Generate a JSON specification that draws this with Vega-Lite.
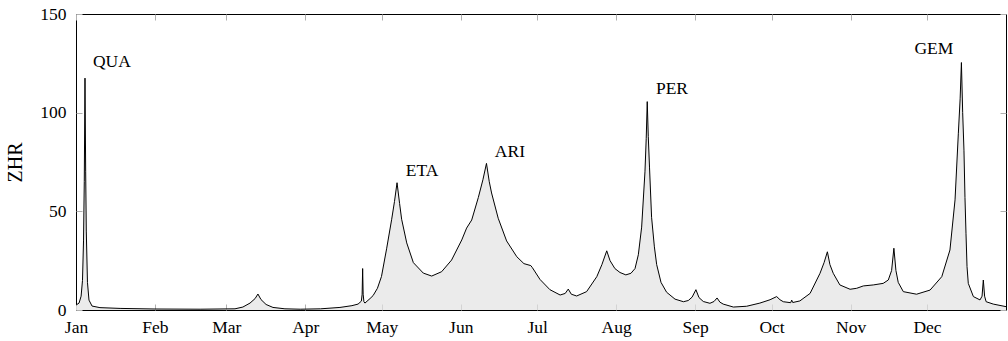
{
  "$schema": "https://vega.github.io/schema/vega-lite/v6.json",
  "width": 930,
  "height": 296,
  "autosize": {"type": "none"},
  "padding": {"left": 76, "top": 14, "right": 2, "bottom": 31},
  "background": "white",
  "config": {
    "view": {"stroke": "black", "strokeWidth": 1},
    "font": "Liberation Serif",
    "axis": {
      "labelFont": "Liberation Serif",
      "labelFontSize": 17.5,
      "labelColor": "black",
      "titleFont": "Liberation Serif",
      "titleColor": "black",
      "grid": false,
      "domain": false,
      "tickColor": "#b0b0b0",
      "tickSize": -6,
      "tickWidth": 1
    }
  },
  "datasets": {
    "zhr": [
      {"day": 0, "zhr": 2.5}, {"day": 1.2, "zhr": 3.5}, {"day": 2.0, "zhr": 7}, {"day": 2.55, "zhr": 15},
      {"day": 2.95, "zhr": 35}, {"day": 3.25, "zhr": 65}, {"day": 3.53, "zhr": 117.5}, {"day": 3.8, "zhr": 70},
      {"day": 4.04, "zhr": 40}, {"day": 4.5, "zhr": 14}, {"day": 5.1, "zhr": 5}, {"day": 6.3, "zhr": 2},
      {"day": 9.4, "zhr": 1.2}, {"day": 17.3, "zhr": 0.8}, {"day": 31, "zhr": 0.5}, {"day": 48.7, "zhr": 0.4},
      {"day": 62.4, "zhr": 0.6}, {"day": 65.5, "zhr": 1.5}, {"day": 68.3, "zhr": 3.5}, {"day": 70.3, "zhr": 5.8},
      {"day": 71.4, "zhr": 8.1}, {"day": 72.6, "zhr": 5.3}, {"day": 74.6, "zhr": 2.8}, {"day": 77.3, "zhr": 1.3},
      {"day": 82, "zhr": 0.6}, {"day": 88, "zhr": 0.4}, {"day": 96, "zhr": 0.6}, {"day": 103.6, "zhr": 1.3},
      {"day": 108.3, "zhr": 2.2}, {"day": 110.7, "zhr": 3}, {"day": 112.0, "zhr": 4.5}, {"day": 112.3, "zhr": 8},
      {"day": 112.5, "zhr": 21}, {"day": 112.7, "zhr": 8}, {"day": 113.0, "zhr": 4.2}, {"day": 113.4, "zhr": 3.5},
      {"day": 115.4, "zhr": 5.8}, {"day": 116.6, "zhr": 7.3}, {"day": 118.3, "zhr": 11}, {"day": 119.9, "zhr": 17},
      {"day": 121.9, "zhr": 31}, {"day": 123.9, "zhr": 46}, {"day": 125.0, "zhr": 55}, {"day": 126.0, "zhr": 64.5},
      {"day": 127.0, "zhr": 54}, {"day": 127.8, "zhr": 46}, {"day": 129.8, "zhr": 34}, {"day": 132.4, "zhr": 24},
      {"day": 136.3, "zhr": 18.7}, {"day": 139.6, "zhr": 17.2}, {"day": 143.5, "zhr": 19.4}, {"day": 147.4, "zhr": 25.3},
      {"day": 151.4, "zhr": 35.5}, {"day": 153.3, "zhr": 41.5}, {"day": 155.3, "zhr": 45.6}, {"day": 157.9, "zhr": 57},
      {"day": 159.7, "zhr": 66}, {"day": 161.1, "zhr": 74.3}, {"day": 162.2, "zhr": 65}, {"day": 163.1, "zhr": 59.3},
      {"day": 165.7, "zhr": 46.5}, {"day": 169.0, "zhr": 35}, {"day": 173.0, "zhr": 27}, {"day": 175.8, "zhr": 23.5},
      {"day": 178.5, "zhr": 22.5}, {"day": 179.1, "zhr": 21.5}, {"day": 182.1, "zhr": 15.5}, {"day": 186.0, "zhr": 10.3},
      {"day": 190.0, "zhr": 7.6}, {"day": 192.0, "zhr": 8.4}, {"day": 193.2, "zhr": 10.6}, {"day": 194.4, "zhr": 8},
      {"day": 196.5, "zhr": 7.1}, {"day": 200.4, "zhr": 9.3}, {"day": 204.4, "zhr": 16.9}, {"day": 206.4, "zhr": 23},
      {"day": 208.3, "zhr": 30}, {"day": 209.6, "zhr": 25}, {"day": 211.5, "zhr": 21}, {"day": 213.5, "zhr": 19},
      {"day": 215.8, "zhr": 17.8}, {"day": 217.8, "zhr": 18.6}, {"day": 219.4, "zhr": 21}, {"day": 220.7, "zhr": 28},
      {"day": 222.0, "zhr": 42}, {"day": 223.3, "zhr": 70}, {"day": 223.8, "zhr": 87}, {"day": 224.2, "zhr": 105.6},
      {"day": 224.6, "zhr": 88}, {"day": 225.1, "zhr": 72}, {"day": 225.9, "zhr": 47}, {"day": 227.0, "zhr": 32},
      {"day": 227.9, "zhr": 23}, {"day": 229.6, "zhr": 14}, {"day": 231.8, "zhr": 9}, {"day": 235.1, "zhr": 5.5},
      {"day": 238.4, "zhr": 4.2}, {"day": 240.3, "zhr": 4.8}, {"day": 241.8, "zhr": 6.5}, {"day": 243.3, "zhr": 10.3},
      {"day": 244.5, "zhr": 6.3}, {"day": 246.2, "zhr": 4.3}, {"day": 248.8, "zhr": 3.4}, {"day": 250.4, "zhr": 4.3},
      {"day": 251.6, "zhr": 6.1}, {"day": 252.7, "zhr": 4}, {"day": 254.0, "zhr": 3.0}, {"day": 258.0, "zhr": 1.5},
      {"day": 263.2, "zhr": 1.9}, {"day": 268.4, "zhr": 3.5}, {"day": 272.4, "zhr": 5.2}, {"day": 275.0, "zhr": 6.8},
      {"day": 276.3, "zhr": 5.2}, {"day": 277.6, "zhr": 4.2}, {"day": 280.5, "zhr": 3.7}, {"day": 280.9, "zhr": 5},
      {"day": 281.3, "zhr": 3.8}, {"day": 284.1, "zhr": 4.6}, {"day": 288.1, "zhr": 8.4}, {"day": 292.0, "zhr": 18.6},
      {"day": 293.6, "zhr": 24}, {"day": 294.9, "zhr": 29.5}, {"day": 295.9, "zhr": 23}, {"day": 297.2, "zhr": 18.6},
      {"day": 299.8, "zhr": 12.7}, {"day": 303.8, "zhr": 10.5}, {"day": 306.4, "zhr": 11}, {"day": 309.0, "zhr": 12.2},
      {"day": 312.9, "zhr": 12.7}, {"day": 316.8, "zhr": 13.5}, {"day": 318.8, "zhr": 15.2}, {"day": 320.1, "zhr": 20},
      {"day": 321.0, "zhr": 31.3}, {"day": 321.8, "zhr": 20}, {"day": 322.7, "zhr": 14}, {"day": 324.7, "zhr": 9.3},
      {"day": 329.9, "zhr": 8}, {"day": 335.2, "zhr": 10.1}, {"day": 339.8, "zhr": 16.9}, {"day": 343.0, "zhr": 30.4},
      {"day": 345.0, "zhr": 55.8}, {"day": 346.3, "zhr": 89.6}, {"day": 347.0, "zhr": 107}, {"day": 347.5, "zhr": 125.4},
      {"day": 348.0, "zhr": 100}, {"day": 348.5, "zhr": 81}, {"day": 348.9, "zhr": 57}, {"day": 349.3, "zhr": 38.9},
      {"day": 349.7, "zhr": 22}, {"day": 350.2, "zhr": 13.5}, {"day": 352.2, "zhr": 6.8}, {"day": 354.8, "zhr": 5.1},
      {"day": 355.6, "zhr": 7}, {"day": 356.1, "zhr": 15.2}, {"day": 356.6, "zhr": 7}, {"day": 357.2, "zhr": 4.2},
      {"day": 360.0, "zhr": 3}, {"day": 365, "zhr": 1.7}
    ],
    "labels": [
      {"day": 14.1, "zhr": 125.7, "label": "QUA"},
      {"day": 135.8, "zhr": 70.5, "label": "ETA"},
      {"day": 170.3, "zhr": 80.1, "label": "ARI"},
      {"day": 233.9, "zhr": 112, "label": "PER"},
      {"day": 336.7, "zhr": 132.3, "label": "GEM"}
    ]
  },
  "layer": [
    {
      "data": {"name": "zhr"},
      "mark": {"type": "area", "fill": "#e3e3e3", "line": {"color": "black", "strokeWidth": 1}},
      "encoding": {
        "x": {
          "field": "day", "type": "quantitative",
          "scale": {"domain": [0, 365], "nice": false, "zero": false},
          "axis": {
            "orient": "bottom",
            "values": [0, 31, 59, 90, 120, 151, 181, 212, 243, 273, 304, 334],
            "labelExpr": "['Jan','Feb','Mar','Apr','May','Jun','Jul','Aug','Sep','Oct','Nov','Dec'][indexof([0,31,59,90,120,151,181,212,243,273,304,334], datum.value)]",
            "title": null,
            "labelPadding": 14,
            "labelFlush": false
          }
        },
        "y": {
          "field": "zhr", "type": "quantitative",
          "scale": {"domain": [0, 150], "nice": false},
          "axis": {
            "orient": "left",
            "values": [0, 50, 100, 150],
            "title": "ZHR",
            "titleFontSize": 20,
            "titleFontWeight": "normal",
            "titlePadding": 14,
            "labelPadding": 16
          }
        }
      }
    },
    {
      "data": {"name": "zhr"},
      "mark": {"type": "line", "strokeOpacity": 0},
      "encoding": {
        "x": {
          "field": "day", "type": "quantitative",
          "axis": {"orient": "top", "values": [0, 31, 59, 90, 120, 151, 181, 212, 243, 273, 304, 334], "labels": false, "title": null}
        },
        "y": {
          "field": "zhr", "type": "quantitative",
          "axis": {"orient": "right", "values": [0, 50, 100, 150], "labels": false, "title": null}
        }
      }
    },
    {
      "data": {"name": "labels"},
      "mark": {"type": "text", "fontSize": 17.5, "font": "Liberation Serif", "color": "black", "align": "center", "baseline": "middle"},
      "encoding": {
        "x": {"field": "day", "type": "quantitative", "axis": null},
        "y": {"field": "zhr", "type": "quantitative", "axis": null},
        "text": {"field": "label"}
      }
    }
  ],
  "resolve": {"axis": {"x": "independent", "y": "independent"}}
}
